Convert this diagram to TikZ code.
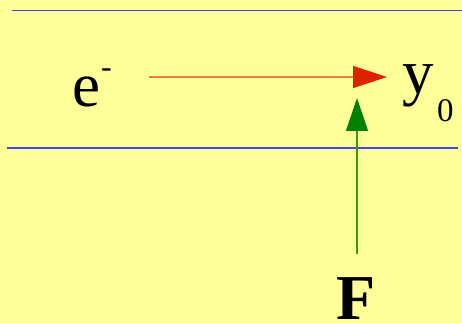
\documentclass[tikz,border=0pt]{standalone}
\usepackage{fontspec}
\setmainfont{Liberation Serif}
\usetikzlibrary{arrows.meta}
\definecolor{bgyellow}{RGB}{255,255,153}
\definecolor{lineblue}{RGB}{70,70,240}
\definecolor{lineorange}{RGB}{232,128,60}
\definecolor{headred}{RGB}{221,34,0}
\definecolor{arrowgreen}{RGB}{0,128,0}
\definecolor{stemgreen}{RGB}{60,150,20}
\tikzset{
  bluerule/.style={draw=lineblue, line width=1.2pt},
  lbl/.style={inner sep=0pt, outer sep=0pt, anchor=base west, text=black},
}
\begin{document}
\begin{tikzpicture}[x=1pt,y=-1pt]
\fill[bgyellow] (0,0) rectangle (462,323);
\useasboundingbox (0,0) rectangle (462,323);
% blue rules
\coordinate (t1) at (12,10.5);
\coordinate (t2) at (462,10.5);
\coordinate (b1) at (7,148);
\coordinate (b2) at (458,148);
\draw[bluerule] (t1) -- (t2);
\draw[bluerule] (b1) -- (b2);
% labels
\node[lbl, font=\fontsize{63}{63}\selectfont] (e) at (72.5,107) {e};
\node[lbl, font=\fontsize{32}{32}\selectfont] (minus) at (101,78) {-};
\node[lbl, font=\fontsize{63}{63}\selectfont] (y) at (402,94) {y};
\node[lbl, font=\fontsize{33}{33}\selectfont] (zero) at (437,122) {0};
\node[lbl, font=\fontsize{64}{64}\selectfont\bfseries] (F) at (336,319.5) {F};
% electron arrow
\coordinate (eStart) at (149,77);
\coordinate (eEnd) at (387,77);
\draw[lineorange, line width=1.5pt,
  -{Triangle[length=34pt,width=22pt,color=headred,fill=headred]}] (eStart) -- (eEnd);
% force arrow
\coordinate (fStart) at (357,254);
\coordinate (fEnd) at (357,98);
\draw[stemgreen, line width=1.2pt,
  -{Triangle[length=33pt,width=22pt,color=arrowgreen,fill=arrowgreen]}] (fStart) -- (fEnd);
\end{tikzpicture}
\end{document}
